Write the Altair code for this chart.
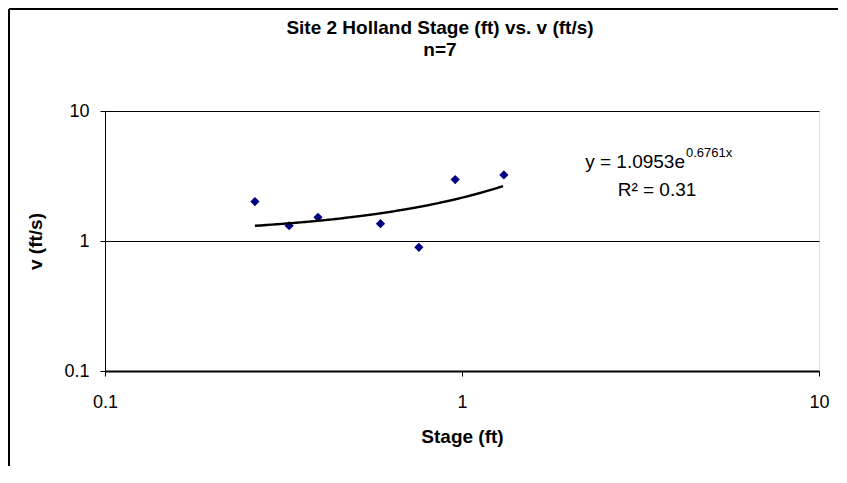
import altair as alt
import pandas as pd

# ---- data ----
stage = [0.263, 0.328, 0.395, 0.591, 0.757, 0.957, 1.31]
velocity = [2.01, 1.31, 1.52, 1.36, 0.894, 2.97, 3.22]
tick_values = [0.1, 1, 10]
fit_a = 1.0953
fit_b = 0.6761
fit_start = 0.263
fit_stop = 1.31
title_lines = ["Site 2 Holland Stage (ft) vs. v (ft/s)", "n=7"]
eq_main = ["y = 1.0953e"]
eq_sup = ["0.6761x"]
r2_text = ["R\u00b2 = 0.31"]

FONT = "Liberation Sans"
W, H = 714, 260

df = pd.DataFrame({"stage": stage, "v": velocity})

xscale = alt.Scale(type="log", domain=[0.1, 10])
yscale = alt.Scale(type="log", domain=[0.1, 10])

xaxis = alt.Axis(values=tick_values, format="~g", grid=False, tickSize=5,
                 labelPadding=17, titlePadding=16, domainWidth=2,
                 domainColor="black", tickColor="black", labelColor="black",
                 labelFontSize=18, titleFontSize=19, titleFontWeight="bold",
                 labelFont=FONT, titleFont=FONT, titleColor="black",
                 labelFlush=False)
yaxis = alt.Axis(values=tick_values, format="~g", grid=True, gridColor="black",
                 gridOpacity=1, gridWidth=1, tickSize=5, labelPadding=11,
                 titlePadding=18, domainColor="black", tickColor="black",
                 labelColor="black", labelFontSize=18, titleFontSize=19,
                 titleFontWeight="bold", labelFont=FONT, titleFont=FONT,
                 titleColor="black", labelFlush=False)

points = alt.Chart(df).mark_point(
    shape="diamond", filled=True, color="#000080", size=85, opacity=1
).encode(
    x=alt.X("stage:Q", scale=xscale, axis=xaxis, title="Stage (ft)"),
    y=alt.Y("v:Q", scale=yscale, axis=yaxis, title="v (ft/s)"),
)

trend = alt.Chart(alt.sequence(fit_start, fit_stop + 0.001, 0.01, as_="stage")).transform_calculate(
    v=f"{fit_a} * exp({fit_b} * datum.stage)"
).mark_line(color="black", strokeWidth=2.4).encode(
    x=alt.X("stage:Q", scale=xscale),
    y=alt.Y("v:Q", scale=yscale),
)

ann_font = dict(font=FONT, color="black")
eq1 = alt.Chart(pd.DataFrame({"t": eq_main})).mark_text(
    align="right", baseline="alphabetic", fontSize=19, **ann_font
).encode(text="t:N", x=alt.value(580), y=alt.value(57))
eq2 = alt.Chart(pd.DataFrame({"t": eq_sup})).mark_text(
    align="left", baseline="alphabetic", fontSize=13, **ann_font
).encode(text="t:N", x=alt.value(581), y=alt.value(46))
r2 = alt.Chart(pd.DataFrame({"t": r2_text})).mark_text(
    align="center", baseline="alphabetic", fontSize=19, **ann_font
).encode(text="t:N", x=alt.value(552), y=alt.value(85))

frame_top = alt.Chart(pd.DataFrame({"edge": ["top"]})).mark_rule(
    color="black", strokeWidth=2
).encode(x=alt.value(-96), x2=alt.value(733), y=alt.value(-102))
frame_left = alt.Chart(pd.DataFrame({"side": ["left"]})).mark_rule(
    color="black", strokeWidth=2
).encode(x=alt.value(-96), x2=alt.value(-96), y=alt.value(-102), y2=alt.value(355))

chart = alt.layer(frame_top, frame_left, points, trend, eq1, eq2, r2).properties(
    width=W, height=H,
    title=alt.TitleParams(text=title_lines, anchor="middle", fontSize=19,
                          fontWeight="bold", font=FONT, color="black",
                          lineHeight=22, offset=0, dy=52, dx=-22),
    autosize=alt.AutoSizeParams(type="none"),
    padding={"left": 97, "top": 103, "right": 20, "bottom": 100},
).configure_view(stroke="black", strokeWidth=1).configure(background="white")

chart.save("out.html", embed_options={"renderer": "svg", "actions": False})
